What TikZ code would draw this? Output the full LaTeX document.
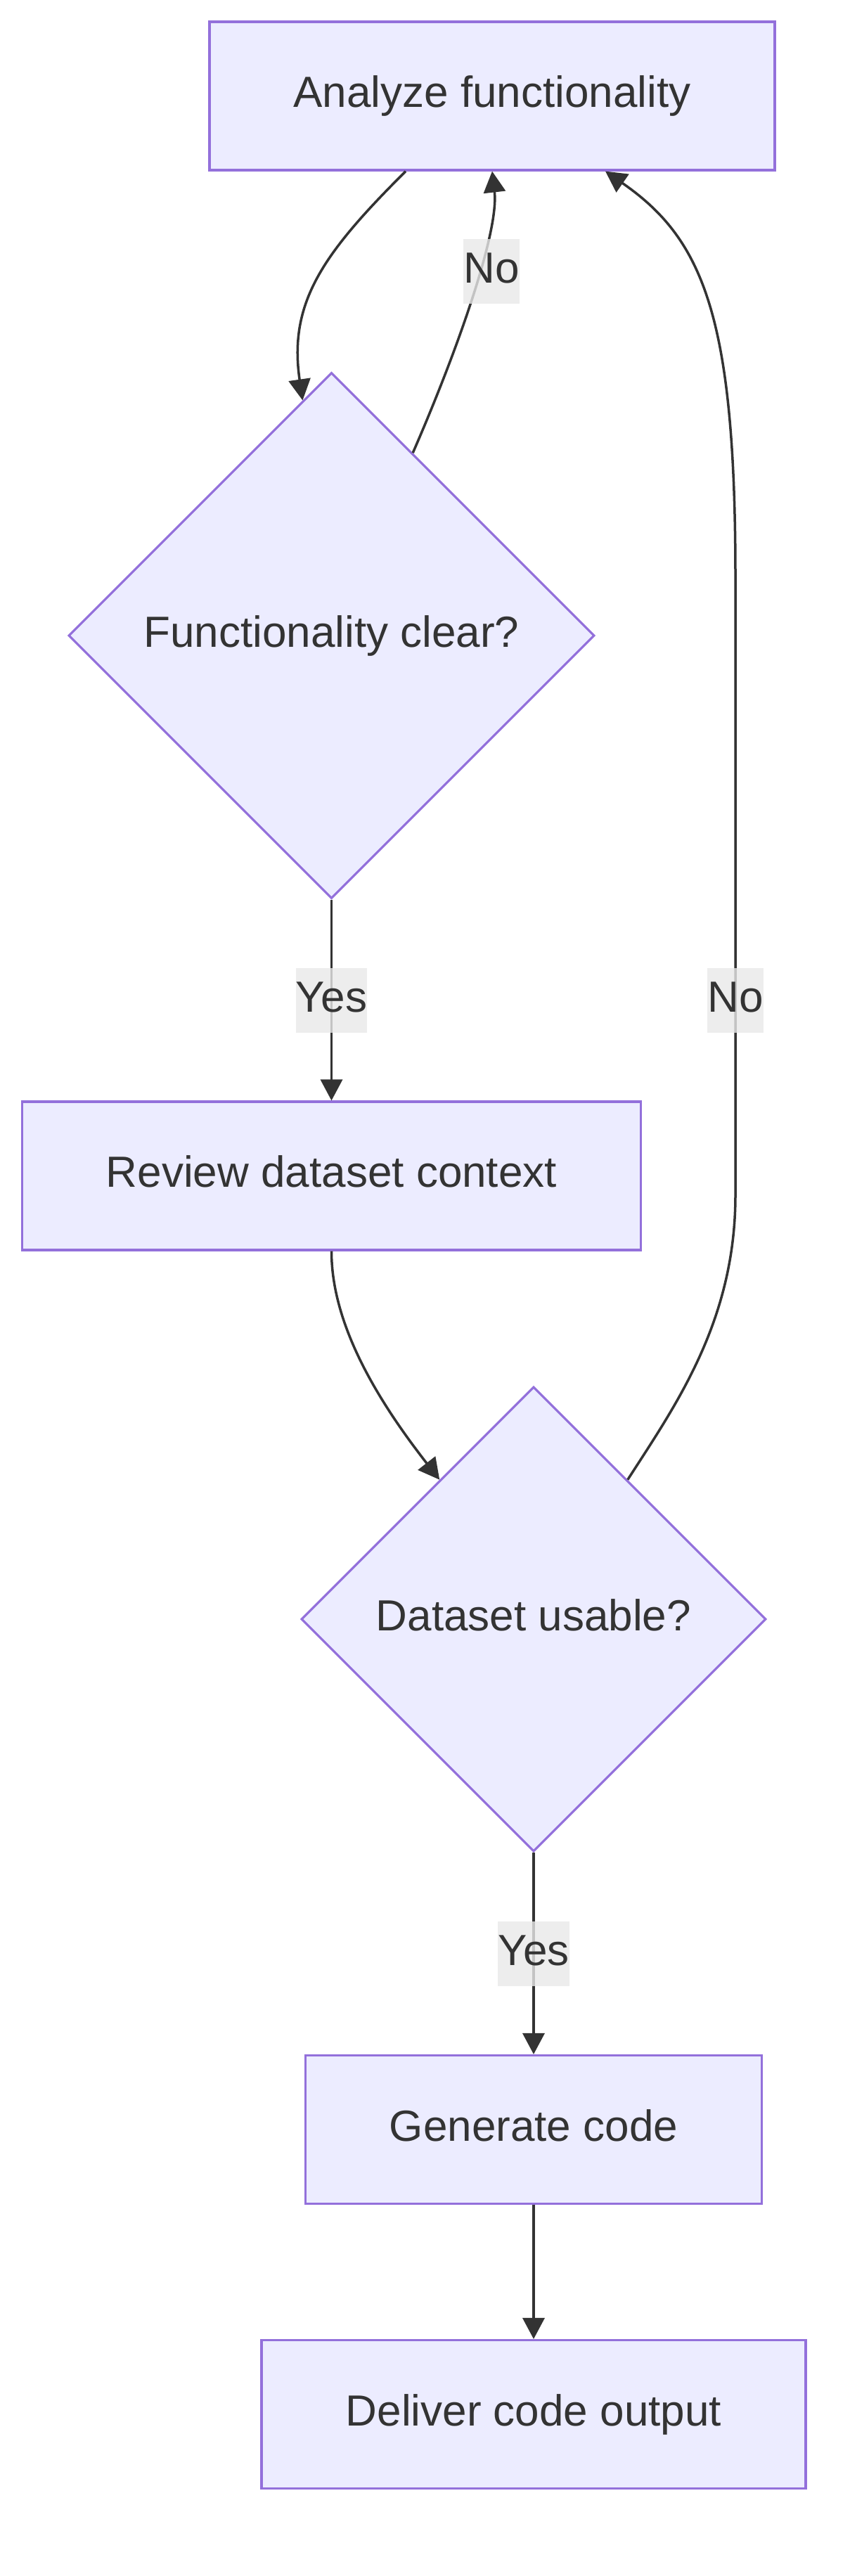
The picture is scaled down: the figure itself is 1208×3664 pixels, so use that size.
\documentclass[tikz,border=0pt]{standalone}
\usepackage{fontspec}
\setmainfont{Liberation Sans}
\usetikzlibrary{shapes.geometric,arrows.meta}
\definecolor{nodefill}{HTML}{ECECFF}
\definecolor{nodeline}{HTML}{9370DB}
\definecolor{edgeline}{HTML}{333333}
\definecolor{txt}{HTML}{333333}
\definecolor{lblbg}{HTML}{E8E8E8}
\begin{document}
\begin{tikzpicture}[x=1pt,y=-1pt,
  every node/.style={font=\fontsize{62}{74}\selectfont, text=txt, text height=45pt, text depth=13pt},
  procbox/.style={draw=nodeline, fill=nodefill, line width=3.2pt, rectangle, minimum height=211pt, inner sep=0pt},
  decision/.style={draw=nodeline, fill=nodefill, line width=3.2pt, diamond, aspect=1, inner sep=0pt},
  flow/.style={draw=edgeline, line width=3.5pt, -{Triangle[length=30pt,width=31pt]}},
  edgelabel/.style={fill=lblbg, fill opacity=0.8, text opacity=1, inner xsep=0pt, inner ysep=0pt, minimum height=92pt}
]
\useasboundingbox (0,0) rectangle (1208,3664);

\node[procbox, minimum width=804pt] (A) at (700,136.5) {Analyze functionality};
\node[decision, minimum width=748pt, minimum height=748pt] (D1) at (471.5,904) {Functionality clear?};
\node[procbox, minimum width=880pt] (R) at (471.5,1672.5) {Review dataset context};
\node[decision, minimum width=661pt, minimum height=661pt] (D2) at (759,2303) {Dataset usable?};
\node[procbox, minimum width=649pt] (G) at (759,3029) {Generate code};
\node[procbox, minimum width=774pt] (O) at (759,3434) {Deliver code output};

\draw[flow] ([xshift=-123pt]A.south) .. controls (460,360) and (410,430) .. (D1.97);
\draw[flow] (D1.66) .. controls (650,500) and (710,330) .. (A.south);
\draw[flow] (D1.south) -- (R.north);
\draw[flow] (R.south) .. controls (471.5,1870) and (520,1970) .. (D2.124);
\draw[flow] (D2.56) .. controls (960,2000) and (1046,1880) .. (1046,1700) -- (1046,820) .. controls (1046,450) and (1000,340) .. ([xshift=161pt]A.south);
\draw[flow] (D2.south) -- (G.north);
\draw[flow] (G.south) -- (O.north);

\node[edgelabel] (l1) at (699,386) {No};
\node[edgelabel] (l2) at (471.5,1423) {Yes};
\node[edgelabel] (l3) at (1046,1423) {No};
\node[edgelabel] (l4) at (759,2779) {Yes};
\end{tikzpicture}
\end{document}
